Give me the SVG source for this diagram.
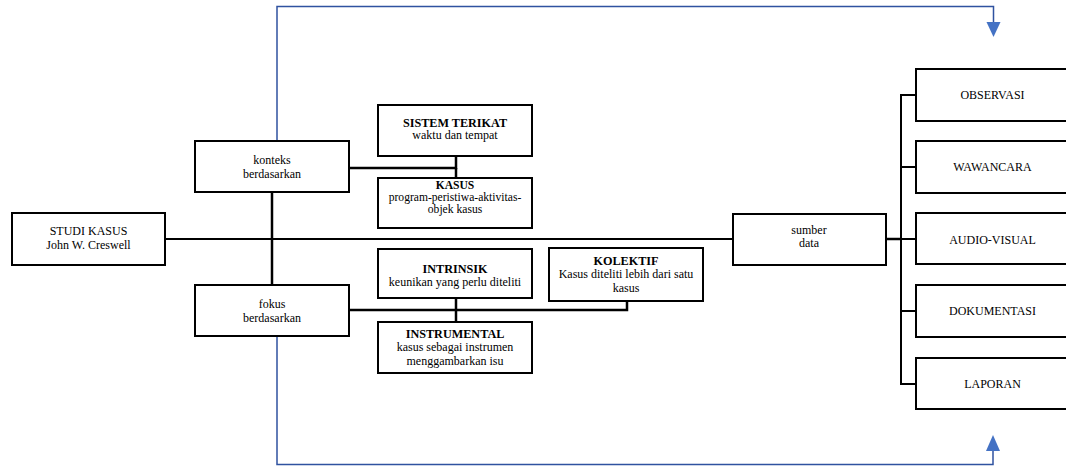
<svg xmlns="http://www.w3.org/2000/svg" width="1066" height="466" viewBox="0 0 1066 466">
<style>
.box{fill:#fff;stroke:#000;stroke-width:2}
.t{font-family:"Liberation Serif","Times New Roman",serif;font-size:12px;fill:#000;text-anchor:middle}
.b{font-weight:bold;font-size:12.2px}
.s{font-size:11.6px}
.c{fill:none;stroke:#000;stroke-width:2.5}
.bl{fill:none;stroke:#2f52a0;stroke-width:1.5}
</style>
<rect width="1066" height="466" fill="#fff"/>
<g id="connectors">
<line class="c" x1="165" y1="239" x2="733" y2="239" style="stroke-width:2"/>
<line class="c" x1="272" y1="192" x2="272" y2="285"/>
<polyline class="c" points="349,168 456,168 456,157"/>
<line class="c" x1="456" y1="168" x2="456" y2="178"/>
<polyline class="c" points="349,310 627,310 627,301"/>
<line class="c" x1="456" y1="298" x2="456" y2="322"/>
<line class="c" x1="886" y1="239" x2="901" y2="239"/>
<polyline class="c" points="916,95 901,95 901,384 916,384" style="stroke-width:2"/>
<line class="c" x1="901" y1="167" x2="916" y2="167" style="stroke-width:2"/>
<line class="c" x1="901" y1="239" x2="916" y2="239" style="stroke-width:2"/>
<line class="c" x1="901" y1="311" x2="916" y2="311" style="stroke-width:2"/>
<polyline class="bl" points="277,141 277,6.5 993.5,6.5 993.5,22"/>
<path d="M986.5,22 L1000.5,22 L993.5,37 Z" fill="#4472c4"/>
<polyline class="bl" points="277,337 277,464.5 993,464.5 993,451"/>
<path d="M986,451 L1000,451 L993,435 Z" fill="#4472c4"/>
</g>
<g id="studi">
<rect class="box" x="12" y="213" width="153" height="52"/>
<text class="t" x="88.5" y="235">STUDI KASUS</text>
<text class="t" x="88.5" y="249">John W. Creswell</text>
</g>
<g id="konteks">
<rect class="box" x="195" y="141" width="154" height="51"/>
<text class="t" x="272" y="164">konteks</text>
<text class="t" x="272" y="178">berdasarkan</text>
</g>
<g id="fokus">
<rect class="box" x="195" y="285" width="154" height="51"/>
<text class="t" x="272" y="308">fokus</text>
<text class="t" x="272" y="322">berdasarkan</text>
</g>
<g id="sistem">
<rect class="box" x="378" y="105" width="154" height="51"/>
<text class="t b" x="455" y="127">SISTEM TERIKAT</text>
<text class="t" x="455" y="139">waktu dan tempat</text>
</g>
<g id="kasus">
<rect class="box" x="378" y="178" width="154" height="50"/>
<text class="t b s" x="455" y="189">KASUS</text>
<text class="t s" x="455" y="201">program-peristiwa-aktivitas-</text>
<text class="t s" x="455" y="213">objek kasus</text>
</g>
<g id="intrinsik">
<rect class="box" x="378" y="249" width="154" height="49"/>
<text class="t b" x="455" y="273">INTRINSIK</text>
<text class="t" x="455" y="286">keunikan yang perlu diteliti</text>
</g>
<g id="kolektif">
<rect class="box" x="549" y="248" width="154" height="53"/>
<text class="t b" x="626" y="265">KOLEKTIF</text>
<text class="t" x="626" y="278">Kasus diteliti lebih dari satu</text>
<text class="t" x="626" y="292">kasus</text>
</g>
<g id="instrumental">
<rect class="box" x="378" y="322" width="154" height="51"/>
<text class="t b" x="455" y="338">INSTRUMENTAL</text>
<text class="t" x="455" y="351">kasus sebagai instrumen</text>
<text class="t" x="455" y="365">menggambarkan isu</text>
</g>
<g id="sumber">
<rect class="box" x="733" y="214" width="153" height="51"/>
<text class="t" x="809" y="234">sumber</text>
<text class="t" x="809" y="247">data</text>
</g>
<g id="observasi">
<rect class="box" x="916" y="69" width="160" height="52"/>
<text class="t" x="992.5" y="99">OBSERVASI</text>
</g>
<g id="wawancara">
<rect class="box" x="916" y="141" width="160" height="52"/>
<text class="t" x="992.5" y="171">WAWANCARA</text>
</g>
<g id="audiovisual">
<rect class="box" x="916" y="213" width="160" height="51"/>
<text class="t" x="992.5" y="244">AUDIO-VISUAL</text>
</g>
<g id="dokumentasi">
<rect class="box" x="916" y="285" width="160" height="52"/>
<text class="t" x="992.5" y="315">DOKUMENTASI</text>
</g>
<g id="laporan">
<rect class="box" x="916" y="358" width="160" height="51"/>
<text class="t" x="992.5" y="388">LAPORAN</text>
</g>
</svg>
